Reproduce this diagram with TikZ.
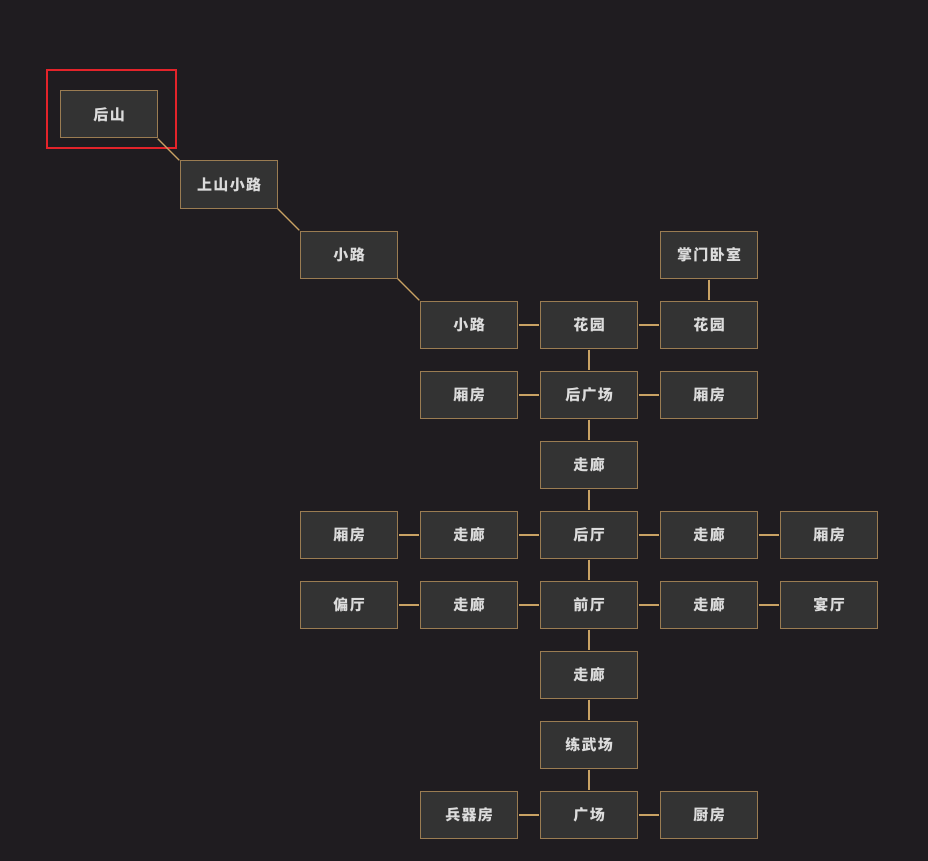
\documentclass[tikz,border=0pt]{standalone}
\usepackage{fontspec}
\usepackage{xcolor}
\usepackage{tikz}
\usetikzlibrary{positioning,calc}

\newfontfamily\cjk[LetterSpace=9]{Noto Sans CJK SC}
\definecolor{bgdark}{HTML}{1F1C20}
\definecolor{roomfill}{HTML}{333333}
\definecolor{roomline}{HTML}{9A7C52}
\definecolor{linkgold}{HTML}{C9A264}
\definecolor{roomtext}{HTML}{DCDCDC}
\definecolor{markred}{HTML}{E3232A}

\begin{document}
\begin{tikzpicture}[node distance=23pt and 23pt,
		room node/.style={rectangle,draw=roomline,fill=roomfill,line width=1pt,outer sep=0pt,
			minimum width=97pt,minimum height=47pt,inner sep=0pt,text=roomtext,
			font=\cjk\bfseries\fontsize{15pt}{17pt}\selectfont,execute at end node={\kern-1.3pt}},
		link/.style={draw=linkgold,line width=2pt,shorten <=1.5pt,shorten >=1.5pt},
		diag link/.style={draw=linkgold,line width=1.1pt,shorten <=1pt,shorten >=1pt},
		mark box/.style={draw=markred,line width=2pt}]
	
	\path[use as bounding box,fill=bgdark] (0pt,0pt) rectangle (928pt,-861pt);
	
	\node[room node] (houshan) at (108.5pt,-114.5pt) {后山};
	\node[room node] (shanlu) [below right=of houshan] {上山小路};
	\node[room node] (xiaolu1) [below right=of shanlu] {小路};
	\node[room node] (xiaolu2) [below right=of xiaolu1] {小路};
	\node[room node] (huayuan1) [right=of xiaolu2] {花园};
	\node[room node] (huayuan2) [right=of huayuan1] {花园};
	\node[room node] (woshi) [above=of huayuan2] {掌门卧室};
	\node[room node] (houguang) [below=of huayuan1] {后广场};
	\node[room node] (xiang1) [left=of houguang] {厢房};
	\node[room node] (xiang2) [right=of houguang] {厢房};
	\node[room node] (zoulang1) [below=of houguang] {走廊};
	\node[room node] (houting) [below=of zoulang1] {后厅};
	\node[room node] (zoulang2) [left=of houting] {走廊};
	\node[room node] (xiang3) [left=of zoulang2] {厢房};
	\node[room node] (zoulang3) [right=of houting] {走廊};
	\node[room node] (xiang4) [right=of zoulang3] {厢房};
	\node[room node] (qianting) [below=of houting] {前厅};
	\node[room node] (zoulang4) [left=of qianting] {走廊};
	\node[room node] (pianting) [left=of zoulang4] {偏厅};
	\node[room node] (zoulang5) [right=of qianting] {走廊};
	\node[room node] (yanting) [right=of zoulang5] {宴厅};
	\node[room node] (zoulang6) [below=of qianting] {走廊};
	\node[room node] (lianwu) [below=of zoulang6] {练武场};
	\node[room node] (guangchang) [below=of lianwu] {广场};
	\node[room node] (bingqi) [left=of guangchang] {兵器房};
	\node[room node] (chufang) [right=of guangchang] {厨房};
	
	% current room
	\draw[mark box] ($(houshan.north west)+(-13pt,21pt)$) rectangle ($(houshan.south east)+(19pt,-10pt)$);
	
	\path[diag link]
	(houshan.south east) edge (shanlu.north west)
	(shanlu.south east) edge (xiaolu1.north west)
	(xiaolu1.south east) edge (xiaolu2.north west);
	
	\path[link]
	(xiaolu2) edge (huayuan1)
	(huayuan1) edge (huayuan2)
	edge (houguang)
	(woshi) edge (huayuan2)
	
	(houguang) edge (xiang1)
	edge (xiang2)
	edge (zoulang1)
	(zoulang1) edge (houting)
	
	(houting) edge (zoulang2)
	edge (zoulang3)
	edge (qianting)
	(zoulang2) edge (xiang3)
	(zoulang3) edge (xiang4)
	
	(qianting) edge (zoulang4)
	edge (zoulang5)
	edge (zoulang6)
	(zoulang4) edge (pianting)
	(zoulang5) edge (yanting)
	
	(zoulang6) edge (lianwu)
	(lianwu) edge (guangchang)
	(guangchang) edge (bingqi)
	edge (chufang)
	;
\end{tikzpicture}
\end{document}
